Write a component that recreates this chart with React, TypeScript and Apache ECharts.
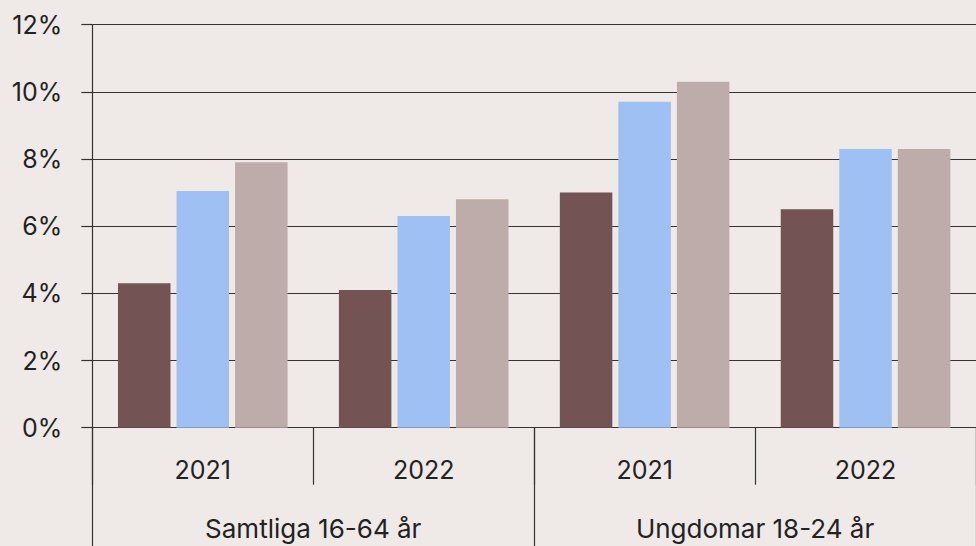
import React, { useEffect, useRef } from "react";
import * as echarts from "echarts";

const categories = ["2021", "2022", "2021", "2022"];
const groups = ["Samtliga 16-64 år", "Ungdomar 18-24 år"];
const series1 = [4.3, 4.1, 7.0, 6.5];
const series2 = [7.05, 6.3, 9.7, 8.3];
const series3 = [7.9, 6.8, 10.3, 8.3];
const seriesNames = ["Serie 1", "Serie 2", "Serie 3"];
const colors = ["#735353", "#9ec0f2", "#beacaa"];

const FONT = "Inter";
const TEXT = "#222222";
const LINE = "#333333";

export default function App() {
  const ref = useRef<HTMLDivElement>(null);
  useEffect(() => {
    if (!ref.current) return;
    const chart = echarts.init(ref.current, null, { renderer: "svg" });
    const values = [series1, series2, series3];
    chart.setOption({
      animation: false,
      backgroundColor: "#efeae8",
      grid: { left: 92.3, right: -3.3, top: 24.6, bottom: 118.3, containLabel: false },
      xAxis: [
        {
          type: "category",
          data: categories,
          position: "bottom",
          axisLine: { show: true, lineStyle: { color: LINE, width: 1.2 } },
          axisTick: { show: true, length: 57, interval: 0, lineStyle: { color: LINE, width: 1.2 } },
          axisLabel: { margin: 30, fontSize: 25, fontFamily: FONT, color: TEXT, interval: 0 },
        },
        {
          type: "category",
          data: groups,
          position: "bottom",
          axisLine: { show: false },
          axisTick: { show: true, length: 118.3, interval: 0, lineStyle: { color: LINE, width: 1.2 } },
          axisLabel: { margin: 88, fontSize: 26, fontFamily: FONT, color: TEXT, interval: 0 },
        },
      ],
      yAxis: {
        type: "value",
        min: 0,
        max: 12,
        interval: 2,
        axisLine: { show: true, lineStyle: { color: LINE, width: 1.2 } },
        axisTick: { show: true, length: 11, lineStyle: { color: LINE, width: 1.2 } },
        axisLabel: {
          formatter: "{value}%",
          margin: 30,
          fontSize: 25,
          fontFamily: FONT,
          color: TEXT,
        },
        splitLine: { show: true, lineStyle: { color: LINE, width: 1.2 } },
      },
      series: values.map((v, i) => ({
        type: "bar",
        name: seriesNames[i],
        data: v,
        xAxisIndex: 0,
        barWidth: 52.5,
        barGap: "11.5%",
        itemStyle: { color: colors[i] },
      })),
    });
    return () => chart.dispose();
  }, []);
  return (
    <div
      ref={ref}
      style={{ position: "absolute", left: 0, top: 0, width: 976, height: 546 }}
    />
  );
}
